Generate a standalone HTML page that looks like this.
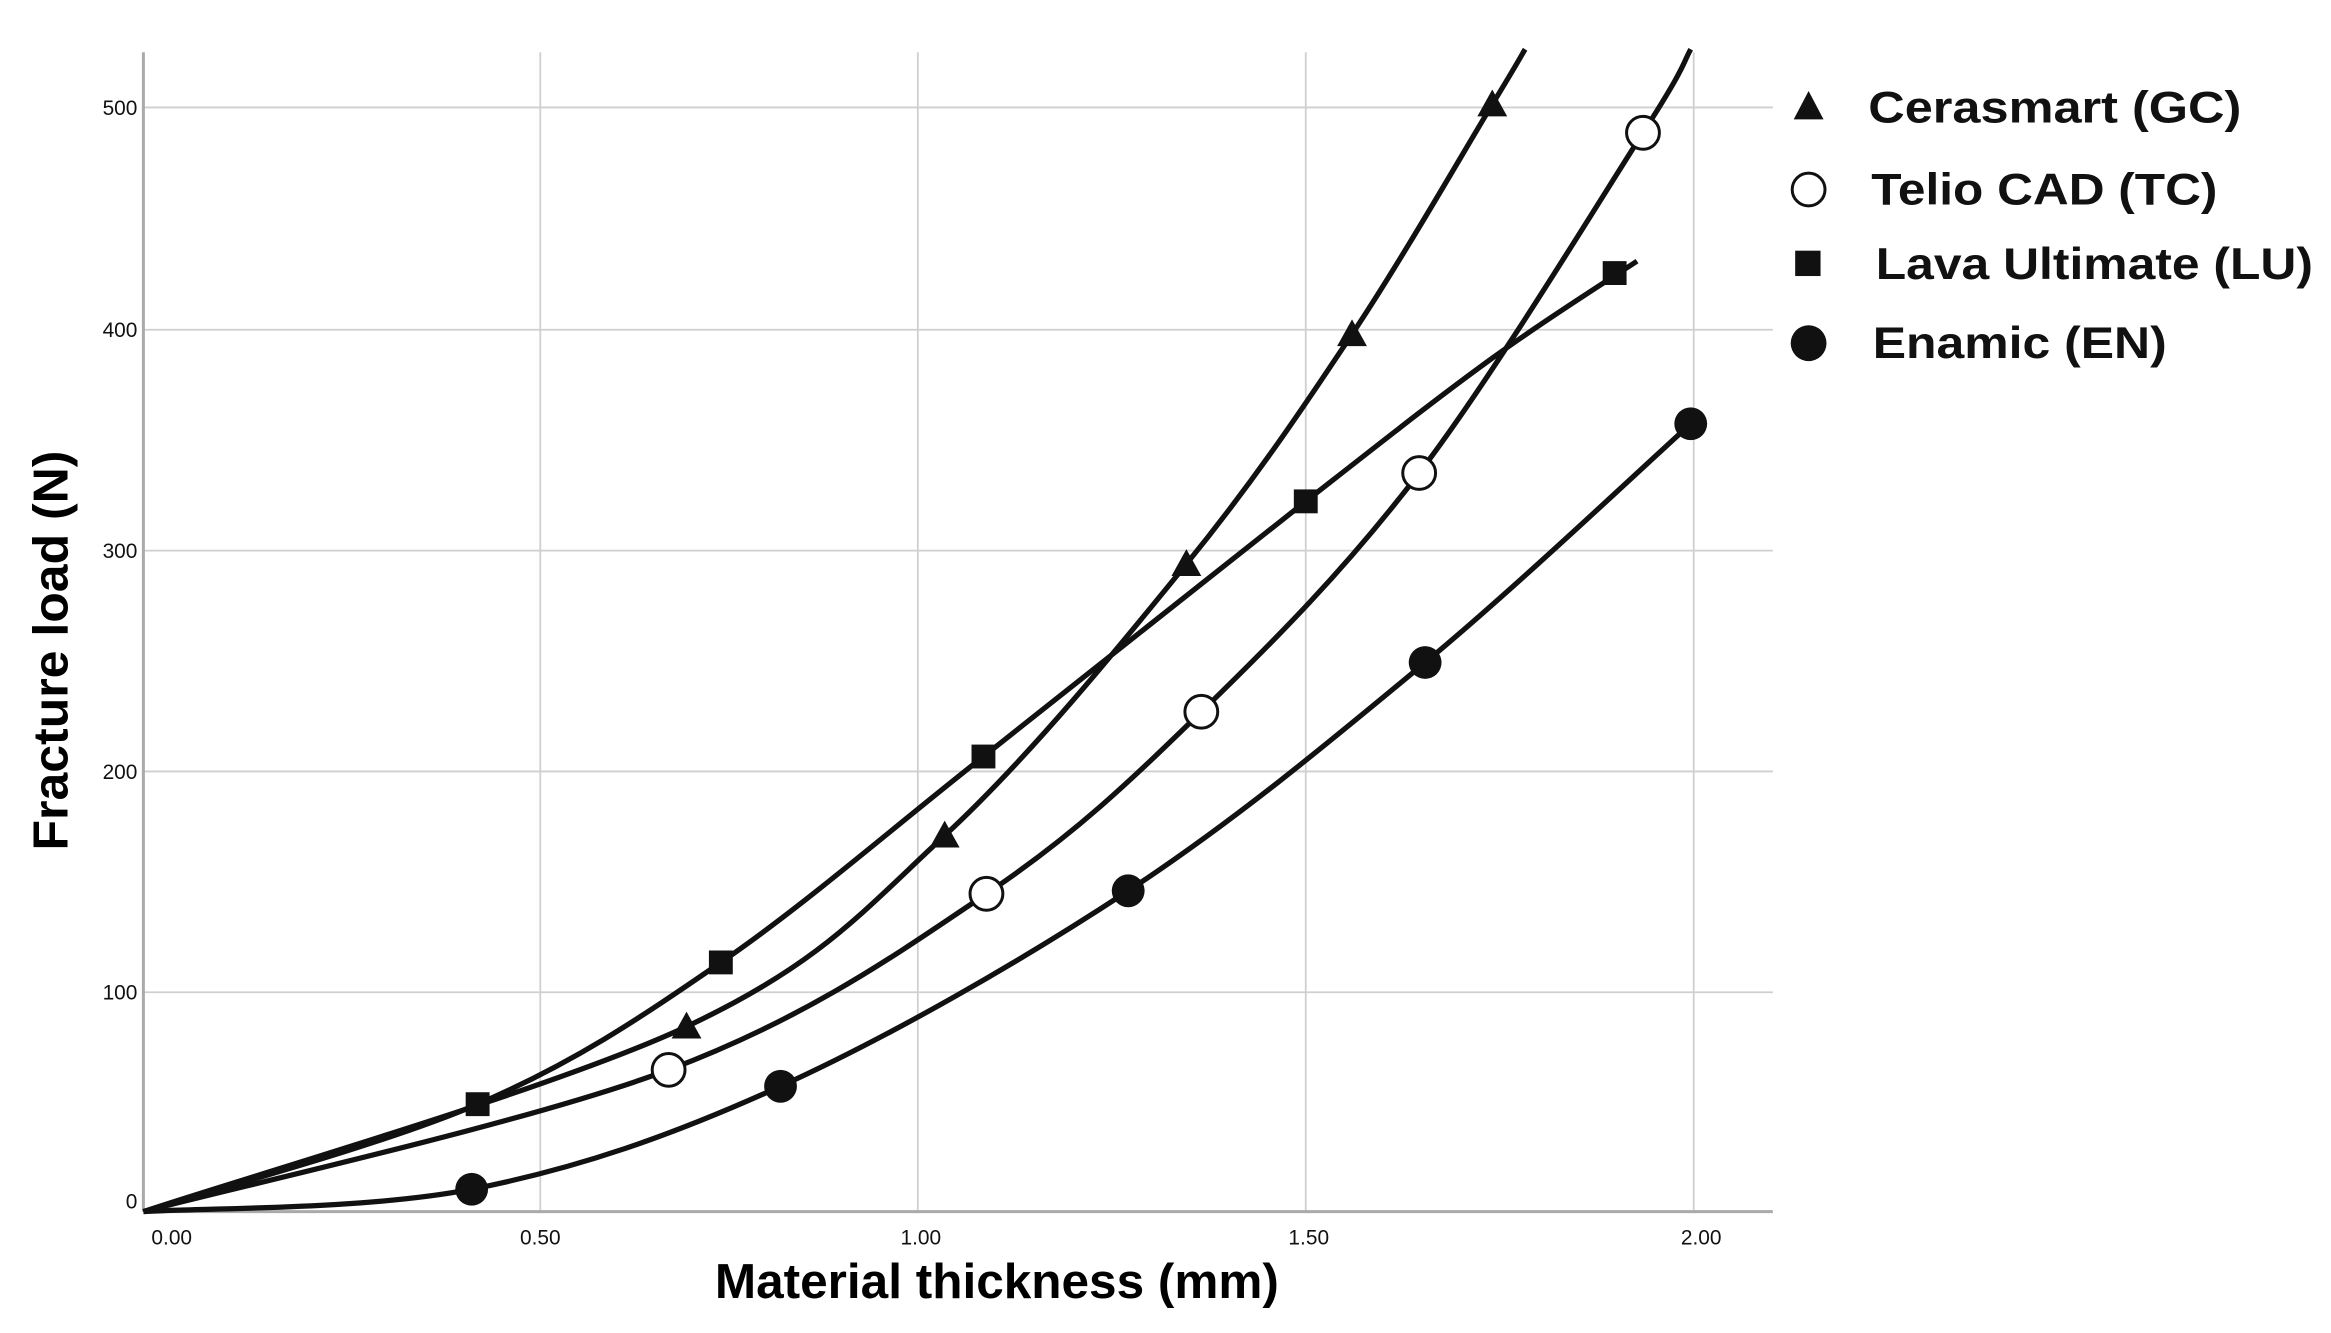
<!DOCTYPE html>
<html><head><meta charset="utf-8"><style>html,body{margin:0;padding:0;background:#fff}</style></head>
<body>
<svg width="2331" height="1328" viewBox="0 0 1562 890" xmlns="http://www.w3.org/2000/svg" font-family="Liberation Sans, Arial, sans-serif">
<rect width="1562" height="890" fill="#fff"/>
<g stroke="#cfcfcf" stroke-width="1.2">
<line x1="96" y1="72" x2="1188" y2="72"/>
<line x1="96" y1="221" x2="1188" y2="221"/>
<line x1="96" y1="369" x2="1188" y2="369"/>
<line x1="96" y1="517" x2="1188" y2="517"/>
<line x1="96" y1="665" x2="1188" y2="665"/>
<line x1="362" y1="35" x2="362" y2="812"/>
<line x1="615" y1="35" x2="615" y2="812"/>
<line x1="875" y1="35" x2="875" y2="812"/>
<line x1="1135" y1="35" x2="1135" y2="812"/>
</g>
<g stroke="#aaa" stroke-width="2">
<line x1="96" y1="35" x2="96" y2="812"/>
<line x1="96" y1="812" x2="1188" y2="812"/>
</g>
<g font-size="14" fill="#111" text-anchor="end">
<text x="92" y="77">500</text><text x="92" y="226">400</text><text x="92" y="374">300</text>
<text x="92" y="522">200</text><text x="92" y="670">100</text><text x="92" y="810">0</text>
</g>
<g font-size="14" fill="#111" text-anchor="middle">
<text x="115" y="834">0.00</text><text x="362" y="834">0.50</text><text x="617" y="834">1.00</text>
<text x="877" y="834">1.50</text><text x="1140" y="834">2.00</text>
</g>
<text x="668" y="870" font-size="33" font-weight="bold" text-anchor="middle" textLength="378" lengthAdjust="spacingAndGlyphs">Material thickness (mm)</text>
<text transform="translate(45,436) rotate(-90)" font-size="33" font-weight="bold" text-anchor="middle" textLength="268" lengthAdjust="spacingAndGlyphs">Fracture load (N)</text>
<g fill="none" stroke="#111" stroke-width="3.5">
<path id="p1"/><path id="p2"/><path id="p3"/><path id="p4"/>
</g>
<g fill="#111">
<polygon points="460,678 450,696 470,696"/><polygon points="633,550 623,568 643,568"/>
<polygon points="795,368 785,386 805,386"/><polygon points="906,214 896,232 916,232"/>
<polygon points="1000,60 990,78 1010,78"/>
<rect x="312" y="732" width="16" height="16"/><rect x="475" y="637" width="16" height="16"/>
<rect x="651" y="499" width="16" height="16"/><rect x="867" y="328" width="16" height="16"/>
<rect x="1074" y="175" width="16" height="16"/>
<circle cx="316" cy="797" r="11"/><circle cx="523" cy="728" r="11"/><circle cx="756" cy="597" r="11"/>
<circle cx="955" cy="444" r="11"/><circle cx="1133" cy="284" r="11"/>
</g>
<g fill="#fff" stroke="#111" stroke-width="2">
<circle cx="448" cy="717" r="11"/><circle cx="661" cy="599" r="11"/><circle cx="805" cy="477" r="11"/>
<circle cx="951" cy="317" r="11"/><circle cx="1101" cy="89" r="11"/>
</g>
<polygon points="1212,61 1202,80 1222,80" fill="#111"/>
<circle cx="1212" cy="127" r="11" fill="#fff" stroke="#111" stroke-width="2"/>
<rect x="1203" y="168" width="17" height="17" fill="#111"/>
<circle cx="1212" cy="230" r="12" fill="#111"/>
<g font-size="30" font-weight="bold" fill="#111">
<text x="1252" y="82" textLength="250" lengthAdjust="spacingAndGlyphs">Cerasmart (GC)</text>
<text x="1254" y="137" textLength="232" lengthAdjust="spacingAndGlyphs">Telio CAD (TC)</text>
<text x="1257" y="187" textLength="293" lengthAdjust="spacingAndGlyphs">Lava Ultimate (LU)</text>
<text x="1255" y="240" textLength="197" lengthAdjust="spacingAndGlyphs">Enamic (EN)</text>
</g>
</svg>
<script>
function cr(p){var d="M"+p[0][0]+","+p[0][1];for(var i=0;i<p.length-1;i++){var a=p[Math.max(i-1,0)],b=p[i],c=p[i+1],e=p[Math.min(i+2,p.length-1)];
var c1=[b[0]+(c[0]-a[0])/6,b[1]+(c[1]-a[1])/6],c2=[c[0]-(e[0]-b[0])/6,c[1]-(e[1]-b[1])/6];
d+=" C"+c1.join(",")+" "+c2.join(",")+" "+c.join(",");}return d;}
var S={p1:[[96,812],[460,688],[633,560],[795,378],[906,224],[1000,70],[1022,33]],
p2:[[96,812],[448,717],[661,599],[805,477],[951,317],[1101,89],[1133,33]],
p3:[[96,812],[320,740],[483,645],[659,507],[875,336],[1000,240],[1097,175]],
p4:[[96,812],[316,797],[523,728],[756,597],[955,444],[1133,284]]};
for(var k in S)document.getElementById(k).setAttribute("d",cr(S[k]));
</script>
</body></html>
